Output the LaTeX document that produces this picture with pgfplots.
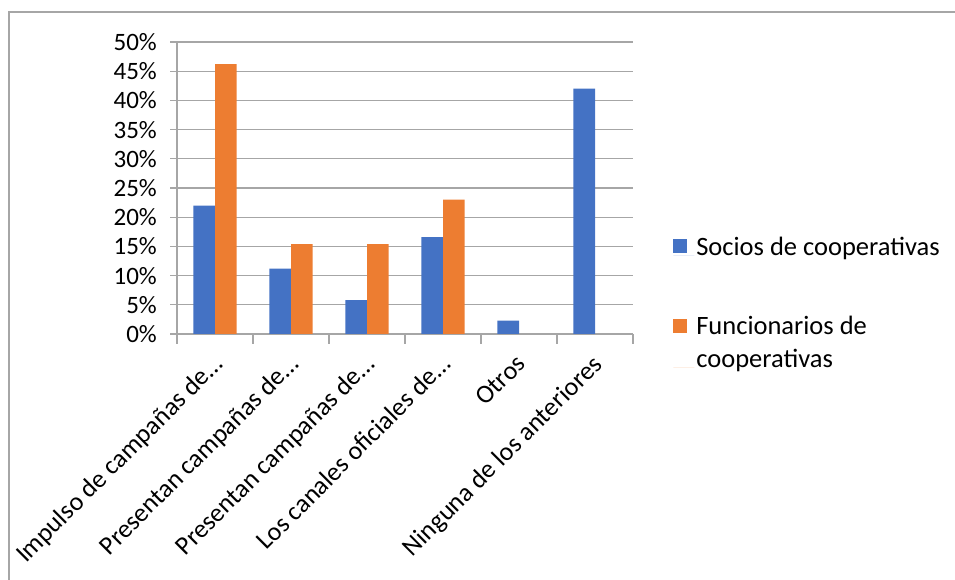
\documentclass[border=0pt]{standalone}
\usepackage{pgfplots}
\pgfplotsset{compat=1.18}
\usepackage{fontspec}
\setmainfont{Carlito}
\definecolor{sblue}{HTML}{4472C4}
\definecolor{sorange}{HTML}{ED7D31}
\definecolor{gridgray}{HTML}{A6A6A6}
\begin{document}
\begin{tikzpicture}[x=1pt,y=1pt]
\path[use as bounding box] (0,0) rectangle (955,580);
\draw[gridgray, line width=1.5pt] (9,0) -- (9,568) -- (956,568);
\begin{axis}[
  at={(215pt,246pt)}, anchor=origin,
  scale only axis, width=456pt, height=292pt,
  xmin=-0.5, xmax=5.5, ymin=0, ymax=50,
  axis x line*=bottom, axis y line*=left,
  axis line style={gridgray, line width=1.3pt},
  ybar, bar width=21.7pt,
  ytick={0,5,...,50},
  yticklabels={0\%,5\%,10\%,15\%,20\%,25\%,30\%,35\%,40\%,45\%,50\%},
  ymajorgrids, grid style={gridgray, line width=1.3pt},
  xtick={0,...,5},
  xticklabels={Impulso de campañas de…,Presentan campañas de…,Presentan campañas de…,Los canales oficiales de…,Otros,Ninguna de los anteriores},
  major x tick style={draw=none},
  minor xtick={-0.5,0.5,...,5.5},
  tick align=outside, major tick length=7pt, minor tick length=10pt,
  every tick/.style={gridgray, line width=1.3pt},
  tick label style={font=\fontsize{25}{30}\selectfont, text=black},
  yticklabel style={inner sep=0pt, xshift=-13pt},
  xticklabel style={font=\fontsize{26}{31}\selectfont, xshift=-4pt, yshift=-12pt, rotate=45, anchor=north east, inner sep=0pt},
  legend style={at={(axis description cs:1.088,0.34)}, anchor=north west, draw=none, fill=none, inner sep=0pt, row sep=55pt, cells={anchor=base west, align=left}, font=\fontsize{26.5}{33}\selectfont},
]
\addplot[fill=sblue, draw=none, bar shift=-10.85pt, legend image code/.code={\fill[sblue] (0pt,2pt) rectangle (14pt,16pt); \path (0pt,0pt) -- (21pt,0pt);}] coordinates {(0,22) (1,11.2) (2,5.8) (3,16.6) (4,2.3) (5,42)};
\addlegendentry{Socios de cooperativas}
\addplot[fill=sorange, draw=none, bar shift=10.85pt, legend image code/.code={\fill[sorange] (0pt,34pt) rectangle (14pt,48pt); \path (0pt,0pt) -- (21pt,0pt);}] coordinates {(0,46.2) (1,15.4) (2,15.4) (3,23)};
\addlegendentry{Funcionarios de\\cooperativas}
\end{axis}
\end{tikzpicture}
\end{document}
